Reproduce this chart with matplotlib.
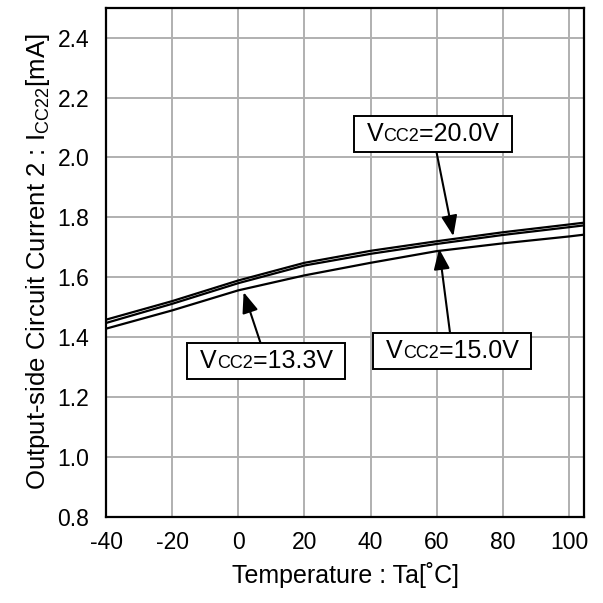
import matplotlib.pyplot as plt
from matplotlib.offsetbox import TextArea, HPacker, AnnotationBbox

plt.rcParams['font.family'] = ['Liberation Sans', 'DejaVu Sans']
plt.rcParams['mathtext.fontset'] = 'custom'
plt.rcParams['mathtext.rm'] = 'Liberation Sans'

# temperature [degC] and supply current [mA] for each Vcc2
temp = [-40, -20, 0, 20, 40, 60, 80, 100, 104.5]
icc_20v = [1.458, 1.520, 1.589, 1.648, 1.688, 1.720, 1.750, 1.776, 1.782]
icc_15v = [1.447, 1.511, 1.580, 1.639, 1.678, 1.711, 1.741, 1.767, 1.773]
icc_13v3 = [1.428, 1.489, 1.556, 1.606, 1.648, 1.687, 1.713, 1.736, 1.742]

xticks = [-40, -20, 0, 20, 40, 60, 80, 100]
yticks = [0.8, 1.0, 1.2, 1.4, 1.6, 1.8, 2.0, 2.2, 2.4]

fig = plt.figure(figsize=(6.03, 6.03), dpi=100)
ax = fig.add_axes([106 / 603, 1 - 516.7 / 603, 478 / 603, 509 / 603])

for y in (icc_20v, icc_15v, icc_13v3):
    ax.plot(temp, y, color='black', lw=1.6)

ax.set_xlim(-40, 104.5)
ax.set_ylim(0.8, 2.5)
ax.set_xticks(xticks)
ax.set_yticks(yticks)
ax.set_xticklabels([str(t) for t in xticks])
ax.set_yticklabels([f'{v:.1f}' for v in yticks])
ax.grid(True, color='#b0b0b0', lw=1.4)
ax.tick_params(length=0, labelsize=16.5)
ax.tick_params(axis='x', pad=10)
ax.tick_params(axis='y', pad=12)
for s in ax.spines.values():
    s.set_linewidth(1.6)
ax.set_xlabel('Temperature : Ta[˚C]', fontsize=18, labelpad=6)
ax.set_ylabel('Output-side Circuit Current 2 : I$_{\\mathregular{CC22}}$[mA]',
              fontsize=18.5, labelpad=4)


def vcc_label(value, box_xy, tip_xy):
    parts = [TextArea(' V', textprops=dict(fontsize=18)),
             TextArea('CC2', textprops=dict(fontsize=13)),
             TextArea('=' + value + ' ', textprops=dict(fontsize=18))]
    pack = HPacker(children=parts, align='baseline', pad=0, sep=0)
    ab = AnnotationBbox(pack, tip_xy, xybox=box_xy, xycoords='data',
                        boxcoords='data', pad=0.42,
                        bboxprops=dict(boxstyle='square,pad=0.42', fc='white',
                                       ec='black', lw=1.4),
                        arrowprops=dict(arrowstyle='-|>,head_length=0.9,head_width=0.35',
                                        color='black', lw=1.5, shrinkA=0, shrinkB=0))
    ax.add_artist(ab)


vcc_label('20.0V', (58.8, 2.079), (65, 1.737))
vcc_label('15.0V', (64.7, 1.354), (60.7, 1.695))
vcc_label('13.3V', (8.5, 1.321), (1.6, 1.55))

fig.savefig('out.png', dpi=100)
